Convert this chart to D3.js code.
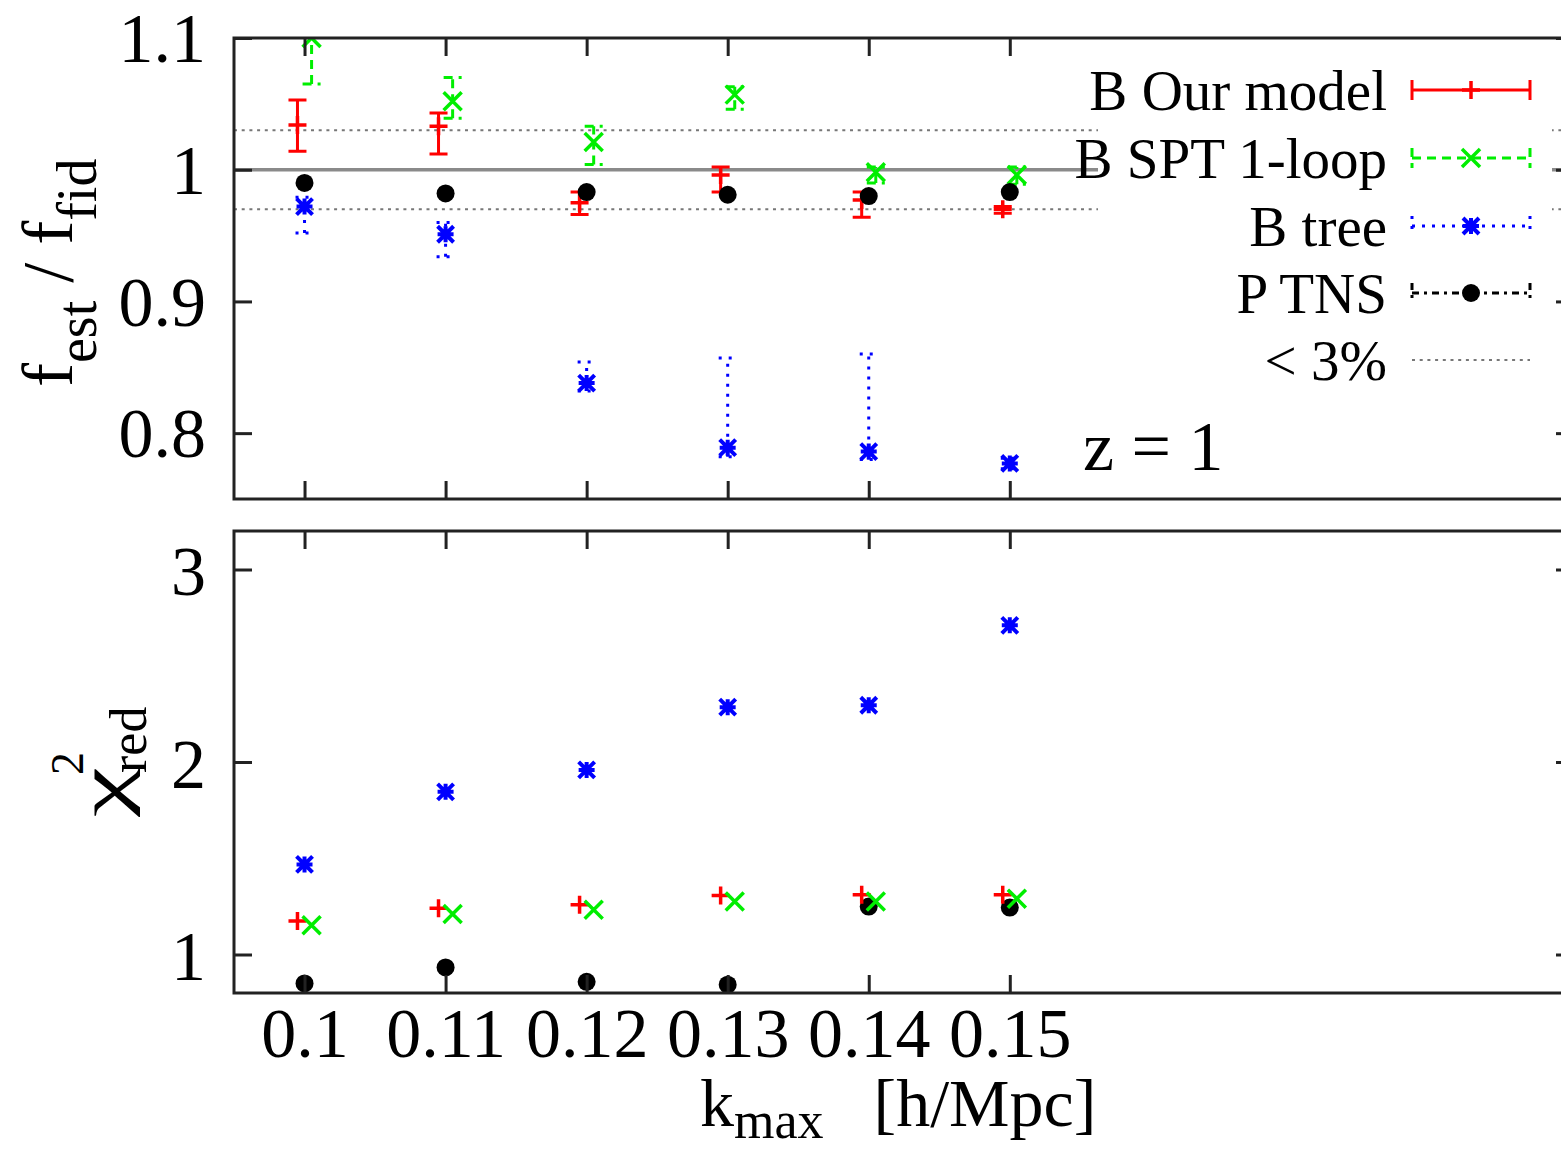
<!DOCTYPE html>
<html>
<head>
<meta charset="utf-8">
<script src="https://cdn.jsdelivr.net/npm/d3@7"></script>
<style>
  html, body { margin: 0; padding: 0; background: #fff; }
  svg { display: block; }
  text { font-family: "Liberation Serif", "Times New Roman", serif; fill: #000; }
</style>
</head>
<body>
<svg id="chart" width="1561" height="1152"></svg>
<script>
// k_max values [h/Mpc]
const kmax = [0.10, 0.11, 0.12, 0.13, 0.14, 0.15];

// f_est / f_fid with lower / upper error limits
const fOur    = [1.034, 1.033, 0.975, 0.996, 0.977, 0.970];
const fOurLo  = [1.014, 1.012, 0.966, 0.983, 0.964, 0.967];
const fOurHi  = [1.053, 1.043, 0.983, 1.002, 0.983, 0.972];

const fSpt    = [1.100, 1.052, 1.021, 1.057, 0.998, 0.996];
const fSptLo  = [1.065, 1.039, 1.004, 1.046, 0.990, 0.989];
const fSptHi  = [1.135, 1.070, 1.033, 1.063, 1.002, 1.002];

const fTree   = [0.972, 0.951, 0.838, 0.789, 0.786, 0.777];
const fTreeLo = [0.952, 0.934, 0.832, 0.782, 0.780, 0.773];
const fTreeHi = [0.979, 0.960, 0.854, 0.857, 0.860, 0.781];

const fTns    = [0.990, 0.982, 0.983, 0.981, 0.980, 0.983];

// reduced chi-square
const chiOur  = [1.174, 1.240, 1.259, 1.306, 1.311, 1.311];
const chiSpt  = [1.152, 1.210, 1.233, 1.275, 1.275, 1.290];
const chiTree = [1.468, 1.845, 1.959, 2.285, 2.295, 2.710];
const chiTns  = [0.850, 0.933, 0.858, 0.843, 1.249, 1.244];

// axis ticks
const fTicks   = [0.8, 0.9, 1.0, 1.1];
const chiTicks = [1, 2, 3];
const fBand    = [0.97, 1.03];

const legendLabels = ["B Our model", "B SPT 1-loop", "B tree", "P TNS", "< 3%"];

const RED = "#ff0000", GREEN = "#00ee00", BLUE = "#0000ff", BLACK = "#000000";
const FRAME = "#222";

const svg = d3.select("#chart");

// layout
const left = 234, right = 1574;
const top1 = 38, bot1 = 499;
const top2 = 531, bot2 = 993;

const x = d3.scaleLinear().domain([0.095, 0.19]).range([left, right]);
const yF = d3.scaleLinear().domain([0.75, 1.1]).range([bot1, top1]);
const yC = d3.scaleLinear().domain([0.8, 3.2]).range([bot2, top2]);
const dk = 0.0005; // horizontal offset between the bispectrum models

const defs = svg.append("defs");
defs.append("clipPath").attr("id", "clipTop")
  .append("rect").attr("x", left).attr("y", top1).attr("width", right - left).attr("height", bot1 - top1);
defs.append("clipPath").attr("id", "clipBot")
  .append("rect").attr("x", left).attr("y", top2).attr("width", right - left).attr("height", bot2 - top2);

function marker(g, type, cx, cy, color) {
  const s = 9;
  if (type === "plus") {
    g.append("path").attr("d", `M${cx - s},${cy}H${cx + s}M${cx},${cy - s}V${cy + s}`)
      .attr("stroke", color).attr("stroke-width", 3.5).attr("fill", "none");
  } else if (type === "cross") {
    g.append("path").attr("d", `M${cx - s},${cy - s}L${cx + s},${cy + s}M${cx - s},${cy + s}L${cx + s},${cy - s}`)
      .attr("stroke", color).attr("stroke-width", 3.5).attr("fill", "none");
  } else if (type === "star") {
    const t = 8;
    g.append("path").attr("d",
      `M${cx - t},${cy}H${cx + t}M${cx},${cy - t}V${cy + t}` +
      `M${cx - t},${cy - t}L${cx + t},${cy + t}M${cx - t},${cy + t}L${cx + t},${cy - t}`)
      .attr("stroke", color).attr("stroke-width", 4).attr("fill", "none");
  } else if (type === "dot") {
    g.append("circle").attr("cx", cx).attr("cy", cy).attr("r", 9).attr("fill", color);
  }
}

function errorBar(g, cx, y0, y1, color, dash) {
  const w = 9;
  g.append("path").attr("d", `M${cx},${y0}V${y1}M${cx - w},${y0}H${cx + w}M${cx - w},${y1}H${cx + w}`)
    .attr("stroke", color).attr("stroke-width", 3).attr("fill", "none")
    .attr("stroke-dasharray", dash);
}

// ---------- top panel: f_est / f_fid ----------
const gTop = svg.append("g");
const guides = gTop.append("g").attr("clip-path", "url(#clipTop)");
fBand.forEach(v => {
  guides.append("line").attr("x1", left).attr("x2", right).attr("y1", yF(v)).attr("y2", yF(v))
    .attr("stroke", "#777").attr("stroke-width", 2).attr("stroke-dasharray", "3,4.7");
});
guides.append("line").attr("x1", left).attr("x2", right).attr("y1", yF(1)).attr("y2", yF(1))
  .attr("stroke", "#8a8a8a").attr("stroke-width", 3.5);

const marksTop = gTop.append("g").attr("clip-path", "url(#clipTop)");
kmax.forEach((k, i) => {
  errorBar(marksTop, x(k), yF(fTreeLo[i]), yF(fTreeHi[i]), BLUE, "3,7");
  marker(marksTop, "star", x(k), yF(fTree[i]), BLUE);
  errorBar(marksTop, x(k + dk), yF(fSptLo[i]), yF(fSptHi[i]), GREEN, "9,6");
  marker(marksTop, "cross", x(k + dk), yF(fSpt[i]), GREEN);
  errorBar(marksTop, x(k - dk), yF(fOurLo[i]), yF(fOurHi[i]), RED, null);
  marker(marksTop, "plus", x(k - dk), yF(fOur[i]), RED);
  marker(marksTop, "dot", x(k), yF(fTns[i]), BLACK);
});

// ---------- bottom panel: reduced chi-square ----------
const gBot = svg.append("g");
const marksBot = gBot.append("g").attr("clip-path", "url(#clipBot)");
kmax.forEach((k, i) => {
  marker(marksBot, "star", x(k), yC(chiTree[i]), BLUE);
  marker(marksBot, "dot", x(k), yC(chiTns[i]), BLACK);
  marker(marksBot, "plus", x(k - dk), yC(chiOur[i]), RED);
  marker(marksBot, "cross", x(k + dk), yC(chiSpt[i]), GREEN);
});

// ---------- axes (ticks point inward, mirrored on all sides) ----------
const TL = 18;
function styleAxis(sel, fontSize) {
  sel.select(".domain").remove();
  sel.selectAll(".tick line").attr("stroke", FRAME).attr("stroke-width", 3);
  sel.selectAll(".tick text").attr("font-family", "Liberation Serif, serif")
    .attr("font-size", fontSize).attr("fill", "#000");
}

// top panel axes
svg.append("g").attr("transform", `translate(0,${bot1})`)
  .call(d3.axisBottom(x).tickValues(kmax).tickSizeInner(-TL).tickSizeOuter(0).tickFormat(""))
  .call(s => styleAxis(s, 0));
svg.append("g").attr("transform", `translate(0,${top1})`)
  .call(d3.axisTop(x).tickValues(kmax).tickSizeInner(-TL).tickSizeOuter(0).tickFormat(""))
  .call(s => styleAxis(s, 0));
svg.append("g").attr("transform", `translate(${left},0)`)
  .call(d3.axisLeft(yF).tickValues(fTicks).tickSizeInner(-TL).tickSizeOuter(0).tickPadding(28)
    .tickFormat(d3.format("")))
  .call(s => styleAxis(s, 70))
  .call(s => s.selectAll(".tick text").attr("dy", "0.34em"));
svg.append("g").attr("transform", `translate(${right},0)`)
  .call(d3.axisRight(yF).tickValues(fTicks).tickSizeInner(-TL).tickSizeOuter(0).tickFormat(""))
  .call(s => styleAxis(s, 0));

// bottom panel axes
svg.append("g").attr("transform", `translate(0,${bot2})`)
  .call(d3.axisBottom(x).tickValues(kmax).tickSizeInner(-TL).tickSizeOuter(0).tickPadding(16)
    .tickFormat(d3.format("")))
  .call(s => styleAxis(s, 70))
  .call(s => s.selectAll(".tick text").attr("dy", "0.68em"));
svg.append("g").attr("transform", `translate(0,${top2})`)
  .call(d3.axisTop(x).tickValues(kmax).tickSizeInner(-TL).tickSizeOuter(0).tickFormat(""))
  .call(s => styleAxis(s, 0));
svg.append("g").attr("transform", `translate(${left},0)`)
  .call(d3.axisLeft(yC).tickValues(chiTicks).tickSizeInner(-TL).tickSizeOuter(0).tickPadding(28)
    .tickFormat(d3.format("")))
  .call(s => styleAxis(s, 70))
  .call(s => s.selectAll(".tick text").attr("dy", "0.36em"));
svg.append("g").attr("transform", `translate(${right},0)`)
  .call(d3.axisRight(yC).tickValues(chiTicks).tickSizeInner(-TL).tickSizeOuter(0).tickFormat(""))
  .call(s => styleAxis(s, 0));

// ---------- legend (opaque key box) ----------
const leg = svg.append("g");
leg.append("rect").attr("x", 1098).attr("y", 56).attr("width", 454).attr("height", 336).attr("fill", "#fff");
const legY = [90, 158, 226, 293, 360];
const sx0 = 1412, sx1 = 1530, sxm = 1471;
legendLabels.forEach((lab, i) => {
  leg.append("text").attr("x", 1387).attr("y", legY[i] + 20).attr("text-anchor", "end")
    .attr("font-size", 57).text(lab);
});
// sample for each series
(function () {
  const y0 = legY[0];
  leg.append("path").attr("d", `M${sx0},${y0}H${sx1}M${sx0},${y0 - 10}V${y0 + 10}M${sx1},${y0 - 10}V${y0 + 10}`)
    .attr("stroke", RED).attr("stroke-width", 3).attr("fill", "none");
  marker(leg, "plus", sxm, y0, RED);

  const y1 = legY[1];
  leg.append("path").attr("d", `M${sx0},${y1}H${sx1}M${sx0},${y1 - 10}V${y1 + 10}M${sx1},${y1 - 10}V${y1 + 10}`)
    .attr("stroke", GREEN).attr("stroke-width", 3).attr("fill", "none").attr("stroke-dasharray", "9,6");
  marker(leg, "cross", sxm, y1, GREEN);

  const y2 = legY[2];
  leg.append("path").attr("d", `M${sx0},${y2}H${sx1}M${sx0},${y2 - 10}V${y2 + 10}M${sx1},${y2 - 10}V${y2 + 10}`)
    .attr("stroke", BLUE).attr("stroke-width", 3).attr("fill", "none").attr("stroke-dasharray", "3,7");
  marker(leg, "star", sxm, y2, BLUE);

  const y3 = legY[3];
  leg.append("path").attr("d", `M${sx0},${y3}H${sx1}M${sx0},${y3 - 10}V${y3 + 10}M${sx1},${y3 - 10}V${y3 + 10}`)
    .attr("stroke", BLACK).attr("stroke-width", 3).attr("fill", "none").attr("stroke-dasharray", "7,5,3,5");
  marker(leg, "dot", sxm, y3, BLACK);

  const y4 = legY[4];
  leg.append("line").attr("x1", sx0).attr("x2", sx1).attr("y1", y4).attr("y2", y4)
    .attr("stroke", "#777").attr("stroke-width", 2).attr("stroke-dasharray", "3,4.7");
})();

// redshift label
svg.append("text").attr("x", 1083).attr("y", 470).attr("font-size", 70).text("z = 1");

// ---------- frames ----------
[[top1, bot1], [top2, bot2]].forEach(([t, b]) => {
  svg.append("rect").attr("x", left).attr("y", t).attr("width", right - left).attr("height", b - t)
    .attr("fill", "none").attr("stroke", FRAME).attr("stroke-width", 3);
});

// ---------- axis titles ----------
const t1 = svg.append("text").attr("transform", "translate(72,387) rotate(-90)").attr("font-size", 72);
t1.append("tspan").text("f");
t1.append("tspan").attr("dy", 24).attr("font-size", 56).text("est");
t1.append("tspan").attr("dy", -24).text(" / f");
t1.append("tspan").attr("dy", 24).attr("font-size", 56).text("fid");

// chi^2_red with stacked super- and subscript
const t2 = svg.append("g").attr("transform", "translate(126,817) rotate(-90)");
t2.append("text").attr("x", 0).attr("y", 0).attr("font-size", 68)
  .attr("textLength", 50).attr("lengthAdjust", "spacingAndGlyphs").text("χ");
t2.append("text").attr("x", 42).attr("y", -43).attr("font-size", 46).text("2");
t2.append("text").attr("x", 44).attr("y", 20).attr("font-size", 52).text("red");

const t3 = svg.append("text").attr("x", 700).attr("y", 1126).attr("font-size", 68);
t3.append("tspan").text("k");
t3.append("tspan").attr("dy", 12).attr("font-size", 52).text("max");
t3.append("tspan").attr("dy", -12).attr("dx", 50).text("[h/Mpc]");
</script>
</body>
</html>
